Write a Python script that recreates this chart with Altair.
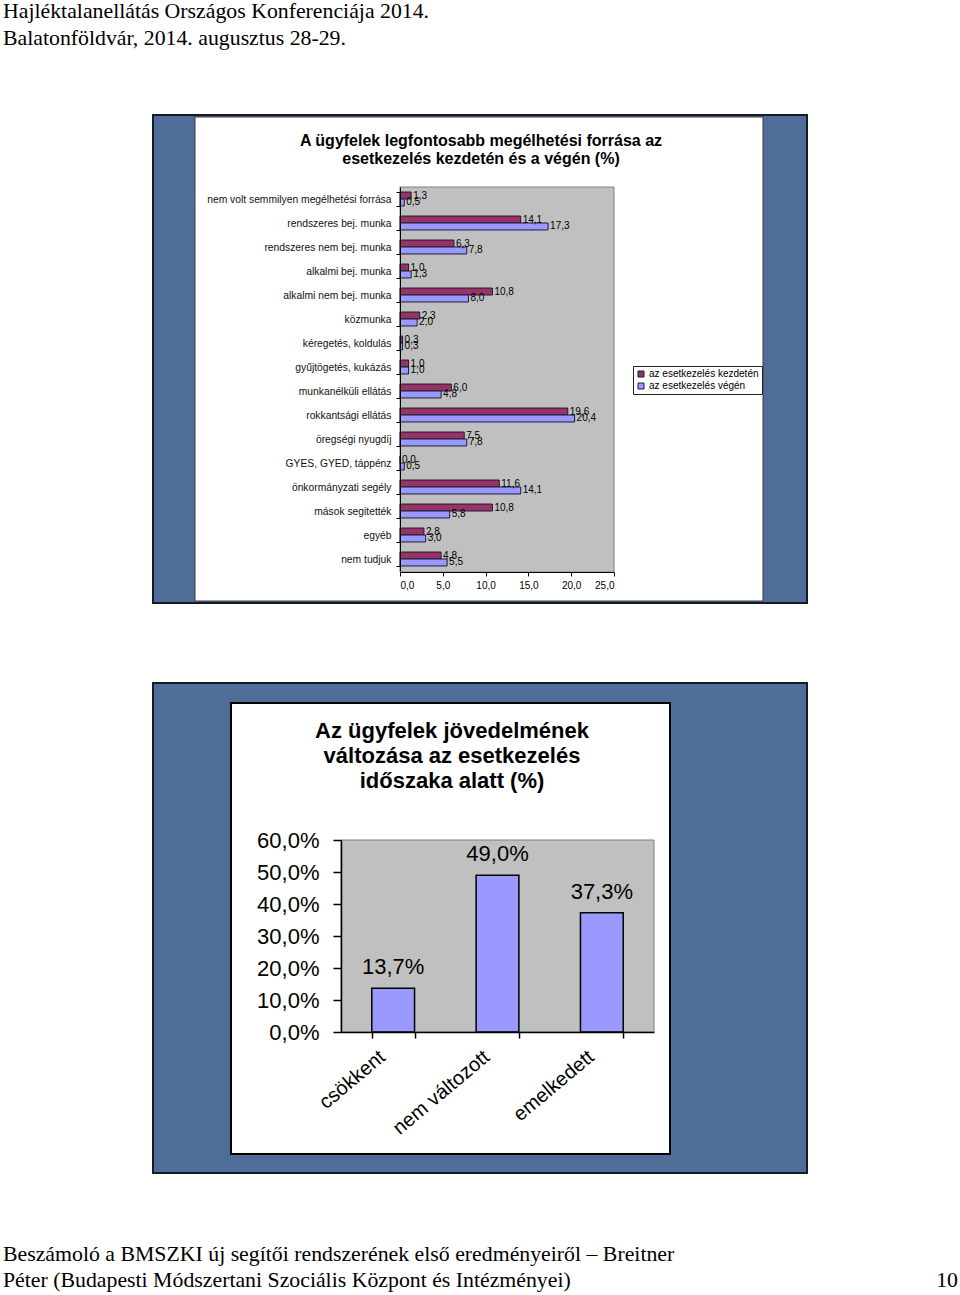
import altair as alt
import pandas as pd

# ---------------- data ----------------
header_lines = ["Hajléktalanellátás Országos Konferenciája 2014.",
                "Balatonföldvár, 2014. augusztus 28-29."]
footer_lines = ["Beszámoló a BMSZKI új segítői rendszerének első eredményeiről – Breitner",
                "Péter (Budapesti Módszertani Szociális Központ és Intézményei)"]
page_number = "10"

title1 = ["A ügyfelek legfontosabb megélhetési forrása az",
          "esetkezelés kezdetén és a végén (%)"]
categories = [
    "nem volt semmilyen megélhetési forrása",
    "rendszeres bej. munka",
    "rendszeres nem bej. munka",
    "alkalmi bej. munka",
    "alkalmi nem bej. munka",
    "közmunka",
    "kéregetés, koldulás",
    "gyűjtögetés, kukázás",
    "munkanélküli ellátás",
    "rokkantsági ellátás",
    "öregségi nyugdíj",
    "GYES, GYED, táppénz",
    "önkormányzati segély",
    "mások segitették",
    "egyéb",
    "nem tudjuk",
]
start_vals = [1.3, 14.1, 6.3, 1.0, 10.8, 2.3, 0.3, 1.0, 6.0, 19.6, 7.5, 0.0, 11.6, 10.8, 2.8, 4.8]
end_vals = [0.5, 17.3, 7.8, 1.3, 8.0, 2.0, 0.3, 1.0, 4.8, 20.4, 7.8, 0.5, 14.1, 5.8, 3.0, 5.5]
series_names = ["az esetkezelés kezdetén", "az esetkezelés végén"]
series_colors = ["#993366", "#9999FF"]
x1_ticks = [0, 5, 10, 15, 20, 25]

title2 = ["Az ügyfelek jövedelmének", "változása az esetkezelés", "időszaka alatt (%)"]
change_cats = ["csökkent", "nem változott", "emelkedett"]
change_vals = [13.7, 49.0, 37.3]
y2_ticks = [0, 10, 20, 30, 40, 50, 60]

# ---------------- tables ----------------
rows = []
for c, a, b in zip(categories, start_vals, end_vals):
    rows.append({"cat": c, "series": series_names[0], "value": a,
                 "label": f"{a:.1f}".replace(".", ",")})
    rows.append({"cat": c, "series": series_names[1], "value": b,
                 "label": f"{b:.1f}".replace(".", ",")})
df1 = pd.DataFrame(rows)
df2 = pd.DataFrame({"cat": change_cats, "value": change_vals,
                    "label": [f"{v:.1f}%".replace(".", ",") for v in change_vals]})
dummy = pd.DataFrame({"a": [0]})

W, H = 960, 1295
SANS = "Liberation Sans"
SERIF = "Liberation Serif"


def rect(x, x2, y, y2, fill, stroke=None, sw=0):
    kw = dict(fill=fill)
    if stroke:
        kw.update(stroke=stroke, strokeWidth=sw)
    return alt.Chart(dummy).mark_rect(**kw).encode(
        x=alt.value(x), x2=alt.value(x2), y=alt.value(y), y2=alt.value(y2))


def text(t, x, y, size, font=SANS, bold=False, align="left", baseline="alphabetic", color="black"):
    return alt.Chart(dummy).mark_text(
        text=t, font=font, fontSize=size, fontWeight="bold" if bold else "normal",
        align=align, baseline=baseline, color=color).encode(x=alt.value(x), y=alt.value(y))


layers = []
# header / footer
layers.append(text(header_lines[0], 3, 18, 21.8, SERIF))
layers.append(text(header_lines[1], 3, 45, 21.8, SERIF))
layers.append(text(footer_lines[0], 3, 1261, 21.8, SERIF))
layers.append(text(footer_lines[1], 3, 1287, 21.8, SERIF))
layers.append(text(page_number, 958, 1287, 21.8, SERIF, align="right"))

# slide backgrounds
BLUE = "#4f6d97"
FRAME = "#141b28"
layers.append(rect(153, 807, 115, 603, BLUE, FRAME, 2))
layers.append(rect(195, 763, 117, 601, "white", "#3a3a3a", 1))
layers.append(rect(153, 807, 683, 1173, BLUE, FRAME, 2))
layers.append(rect(231, 670, 703, 1154, "white", "black", 2))

# plot areas
layers.append(rect(400, 614, 187, 572, "#C0C0C0", "#808080", 1))
layers.append(rect(341, 654, 840, 1032, "#C0C0C0", "#808080", 1))

# titles
layers.append(text(title1[0], 481, 146, 16, bold=True, align="center"))
layers.append(text(title1[1], 481, 164, 16, bold=True, align="center"))
for i, t in enumerate(title2):
    layers.append(text(t, 452, 738 + 25 * i, 22, bold=True, align="center"))

# ---------------- chart 1: horizontal grouped bars ----------------
x1 = alt.X("value:Q",
           scale=alt.Scale(domain=[0, 25], range=[400, 614], nice=False, zero=True),
           axis=alt.Axis(orient="bottom", offset=-(H - 572), title=None, grid=False, zindex=1,
                         values=x1_ticks, tickSize=4, labelPadding=4,
                         labelExpr="replace(format(datum.value, '.1f'), '.', ',')",
                         labelFont=SANS, labelFontSize=10, labelColor="black",
                         domainColor="black", tickColor="black"))
y1 = alt.Y("cat:N", sort=categories,
           scale=alt.Scale(range=[187, 571], paddingInner=0.42, paddingOuter=0.21),
           axis=alt.Axis(orient="left", offset=-400, title=None, tickBand="extent", zindex=1,
                         tickSize=4, labelPadding=5, labelLimit=400,
                         labelFont=SANS, labelFontSize=10.3, labelColor="#111",
                         domainColor="black", tickColor="black"))
yoff = alt.YOffset("series:N", sort=series_names,
                   scale=alt.Scale(paddingInner=0, paddingOuter=0))

bars1 = alt.Chart(df1).mark_bar(stroke="#1c1c3a", strokeWidth=1).encode(
    x=x1, y=y1, yOffset=yoff,
    color=alt.Color("series:N", sort=series_names,
                    scale=alt.Scale(domain=series_names, range=series_colors),
                    legend=alt.Legend(orient="none", legendX=633, legendY=366, title=None,
                                      strokeColor="#222", fillColor="white", padding=3,
                                      labelFont=SANS, labelFontSize=10, labelColor="black",
                                      symbolType="square", symbolSize=36,
                                      symbolStrokeColor="#1c1c3a", symbolStrokeWidth=1,
                                      rowPadding=2, labelOffset=3)))
labels1 = alt.Chart(df1).mark_text(align="left", baseline="middle", dx=2, font=SANS,
                                   fontSize=10, color="black").encode(
    x=alt.X("value:Q"), y=alt.Y("cat:N", sort=categories), yOffset=yoff, text="label:N")
chart1 = alt.layer(bars1, labels1)

# ---------------- chart 2: vertical bars ----------------
x2 = alt.X("cat:N", sort=change_cats,
           scale=alt.Scale(range=[341, 654], paddingInner=0.59, paddingOuter=0.295),
           axis=alt.Axis(orient="bottom", offset=-(H - 1032), title=None, tickBand="extent",
                         zindex=1, tickSize=6, labelAngle=320, labelAlign="right",
                         labelBaseline="middle", labelPadding=16, labelOffset=-11,
                         labelFont=SANS, labelFontSize=20, labelColor="black",
                         domainColor="black", tickColor="black", domainWidth=1.5, tickWidth=1.5))
y2 = alt.Y("value:Q",
           scale=alt.Scale(domain=[0, 60], range=[1032, 840], nice=False, zero=True),
           axis=alt.Axis(orient="left", offset=-341, title=None, grid=False, zindex=1,
                         values=y2_ticks, tickSize=8, labelPadding=14,
                         labelExpr="replace(format(datum.value, '.1f'), '.', ',') + '%'",
                         labelFont=SANS, labelFontSize=22, labelColor="black",
                         domainColor="black", tickColor="black", domainWidth=1.5, tickWidth=1.5))
bars2 = alt.Chart(df2).mark_bar(fill="#9999FF", stroke="black", strokeWidth=1.5).encode(x=x2, y=y2)
labels2 = alt.Chart(df2).mark_text(baseline="middle", dy=-21, font=SANS, fontSize=22,
                                   color="black").encode(
    x=alt.X("cat:N", sort=change_cats), y=alt.Y("value:Q"), text="label:N")
chart2 = alt.layer(bars2, labels2)

layers.append(chart1)
layers.append(chart2)

chart = alt.layer(*layers).resolve_scale(
    x="independent", y="independent", color="independent"
).properties(
    width=W, height=H, autosize=alt.AutoSizeParams(type="none"), padding=0, background="white"
).configure_view(stroke=None)

chart.save("out.html", embed_options={"renderer": "svg", "actions": False})
